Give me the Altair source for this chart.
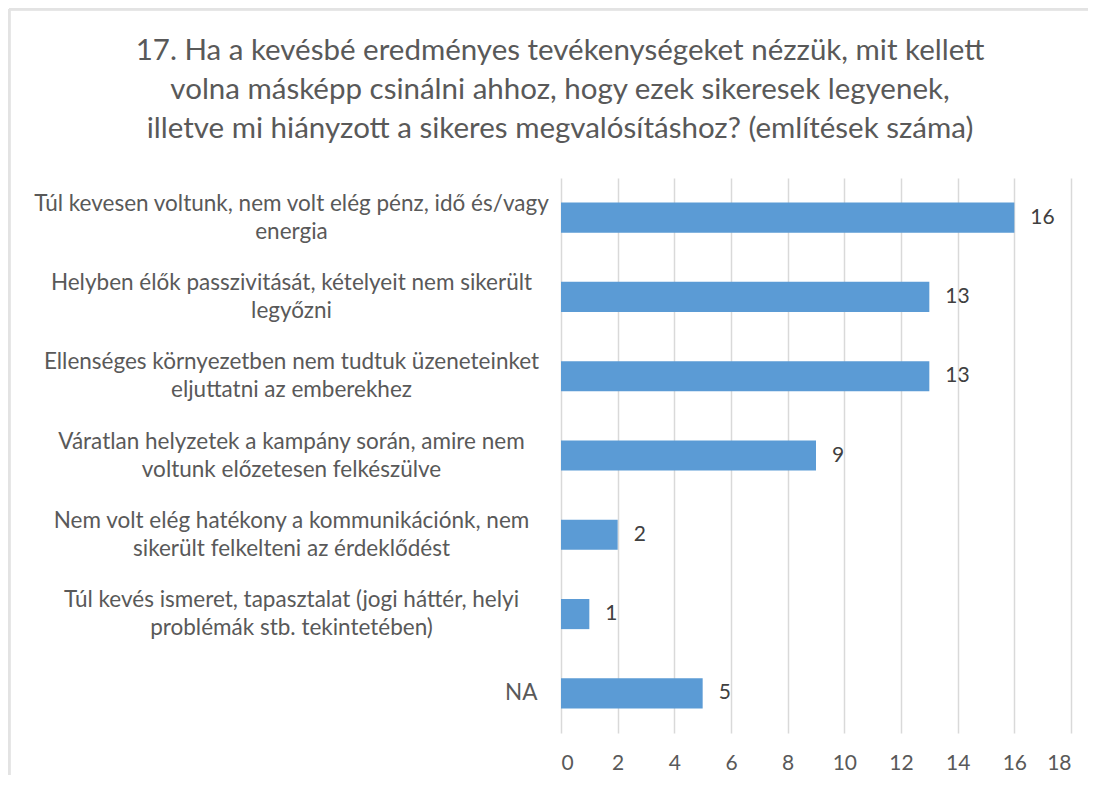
import altair as alt
import pandas as pd

categories = [
    "Túl kevesen voltunk, nem volt elég pénz, idő és/vagy\nenergia",
    "Helyben élők passzivitását, kételyeit nem sikerült\nlegyőzni",
    "Ellenséges környezetben nem tudtuk üzeneteinket\neljuttatni az emberekhez",
    "Váratlan helyzetek a kampány során, amire nem\nvoltunk előzetesen felkészülve",
    "Nem volt elég hatékony a kommunikációnk, nem\nsikerült felkelteni az érdeklődést",
    "Túl kevés ismeret, tapasztalat (jogi háttér, helyi\nproblémák stb. tekintetében)",
    "NA",
]
values = [16, 13, 13, 9, 2, 1, 5]
x_ticks = [0, 2, 4, 6, 8, 10, 12, 14, 16, 18]
title_lines = [
    "17. Ha a kevésbé eredményes tevékenységeket  nézzük, mit kellett",
    "volna másképp csinálni ahhoz, hogy ezek sikeresek legyenek,",
    "illetve mi hiányzott a sikeres megvalósításhoz? (említések száma)",
]

df = pd.DataFrame({"cat": categories, "val": values})

FONT = "Lato"

y_enc = alt.Y(
    "cat:N",
    sort=categories,
    title=None,
    scale=alt.Scale(paddingInner=0.62, paddingOuter=0.31),
    axis=alt.Axis(
        labelExpr="split(datum.label, '\\n')",
        labelAlign={"condition": {"test": "datum.value == 'NA'", "value": "right"}, "value": "center"},
        labelPadding={"condition": {"test": "datum.value == 'NA'", "value": 24}, "value": 270},
        labelOffset={"condition": {"test": "datum.value == 'NA'", "value": 0}, "value": -14},
        labelFont=FONT,
        labelFontSize=22.5,
        labelColor="#595959",
        labelLineHeight=28,
        labelLimit=0,
        ticks=False,
        domain=False,
        grid=False,
    ),
)

x_enc = alt.X(
    "val:Q",
    title=None,
    scale=alt.Scale(domain=[0, 18], nice=False),
    axis=alt.Axis(
        values=x_ticks,
        labelFont=FONT,
        labelFontSize=21,
        labelColor="#595959",
        labelPadding=19,
        ticks=False,
        domain=False,
        grid=True,
        gridColor="#d9d9d9",
        gridWidth=1.5,
    ),
)

bars = alt.Chart(df).mark_bar(color="#5b9bd5").encode(x=x_enc, y=y_enc)
labels = alt.Chart(df).mark_text(
    align="left", baseline="middle", dx=16, font=FONT, fontSize=21, color="#404040"
).encode(x="val:Q", y=alt.Y("cat:N", sort=categories), text="val:Q")

# light frame around the whole chart (left and top edges)
frame_left = alt.Chart(df).mark_rule(color="#e3e3e3", strokeWidth=2.5).encode(
    x=alt.value(-552), y=alt.value(-169), y2=alt.value(620)
)
frame_top = alt.Chart(df).mark_rule(color="#e3e3e3", strokeWidth=2.5).encode(
    x=alt.value(-552), x2=alt.value(540), y=alt.value(-169)
)

chart = (
    alt.layer(frame_left, frame_top, bars, labels)
    .properties(
        width=510,
        height=555,
        autosize=alt.AutoSizeParams(type="none"),
        padding={"left": 553, "top": 170, "right": 17, "bottom": 42},
        title=alt.TitleParams(
            text=title_lines,
            font=FONT,
            fontSize=29.5,
            fontWeight="normal",
            color="#595959",
            anchor="middle",
            dx=-256,
            dy=173,
            offset=36,
            lineHeight=39,
        ),
    )
    .configure_view(stroke=None)
)

chart.save("out.html", embed_options={"renderer": "svg", "actions": False})
